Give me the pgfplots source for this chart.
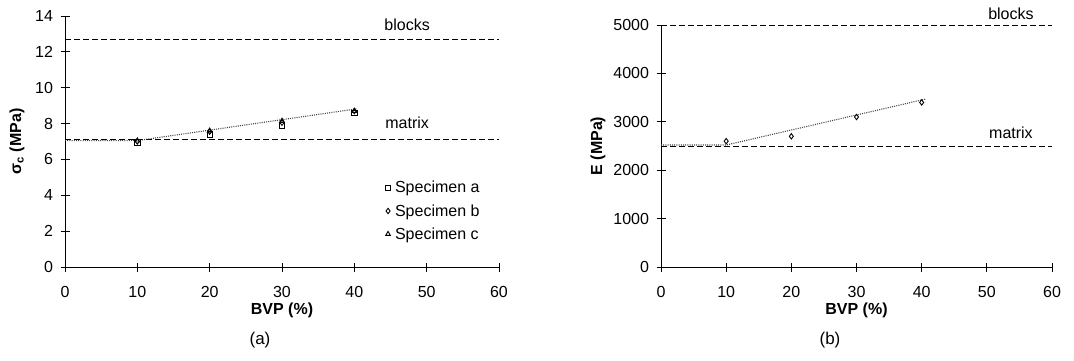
\documentclass[border=0pt]{standalone}
\usepackage{fontspec}
\setmainfont{Liberation Sans}
\usepackage{pgfplots}
\pgfplotsset{compat=1.18}
\begin{document}
\begin{tikzpicture}[font=\fontsize{16}{19}\selectfont]
\useasboundingbox (0,0) rectangle (1074pt,360pt);
\pgfplotsset{
 common/.style={
  scale only axis,
  axis x line=bottom, axis y line=left,
  axis line style={-, line width=1pt, black},
  tick align=center, major tick length=9pt,
  tick style={black, line width=0.8pt},
  xmin=0, xmax=60, xtick={0,10,...,60},
  /pgf/number format/assume math mode=true,
  /pgf/number format/1000 sep={},
  scaled y ticks=false,
  ticklabel style={font=\fontsize{16}{19}\selectfont},
  xticklabel style={yshift=-11pt},
  yticklabel style={xshift=-4pt},
  xlabel style={font=\bfseries\fontsize{16}{19}\selectfont, anchor=center},
  ylabel style={font=\bfseries\fontsize{16}{19}\selectfont, anchor=center, rotate=0},
  clip=false,
 },
 refline/.style={black, line width=1pt, dash pattern=on 6pt off 3pt},
 trend/.style={gray!50!black, line width=1.1pt, dash pattern=on 1pt off 1.2pt},
 mk/.style={only marks, black, line width=0.9pt, mark size=2.7pt, mark options={fill=white, solid}},
}
\begin{axis}[common, at={(65pt,93pt)}, anchor=south west, width=434pt, height=251pt,
  ymin=0, ymax=14, ytick={0,2,...,14},
  xlabel={BVP (\%)}, xlabel style={at={(axis description cs:0.5,-0.171)}},
  ylabel={σ\textsubscript{c} (MPa)}, ylabel style={at={(axis description cs:-0.1106,0.5)}},
  legend cell align=left,
  legend style={draw=none, fill=none, at={(0.735,0.35)}, anchor=north west, inner sep=0pt, row sep=6pt, font=\fontsize{16}{19}\selectfont},
  legend image code/.code={\draw[#1] plot coordinates {(0.12cm,0cm)}; \path (0cm,0cm) (0.28cm,0cm);},
]
\addplot[mk, mark=square] coordinates {(10,6.95) (20,7.4) (30,7.9) (40,8.6)};
\addlegendentry{Specimen a}
\addplot[mk, mark=diamond] coordinates {(10,7.0) (20,7.55) (30,8.05) (40,8.7)};
\addlegendentry{Specimen b}
\addplot[mk, mark=triangle] coordinates {(10,7.05) (20,7.6) (30,8.15) (40,8.7)};
\addlegendentry{Specimen c}
\addplot[refline, forget plot] coordinates {(0,12.7) (60,12.7)};
\addplot[refline, forget plot] coordinates {(0,7.1) (60,7.1)};
\addplot[trend, forget plot] coordinates {(0,7.05) (10,7.05) (40.3,8.82)};
\node at (axis cs:47.3,13.5) {blocks};
\node at (axis cs:47.3,8.03) {matrix};
\end{axis}
\begin{axis}[common, at={(661pt,93pt)}, anchor=south west, width=391pt, height=242pt,
  ymin=0, ymax=5000, ytick={0,1000,...,5000},
  xlabel={BVP (\%)}, xlabel style={at={(axis description cs:0.5,-0.178)}},
  ylabel={E (MPa)}, ylabel style={at={(axis description cs:-0.161,0.5)}},
]
\addplot[refline] coordinates {(0,5000) (60,5000)};
\addplot[refline] coordinates {(0,2500) (60,2500)};
\addplot[trend] coordinates {(0,2520) (10,2520) (40.6,3470)};
\addplot[mk, mark=diamond] coordinates {(10,2600) (20,2700) (30,3100) (40,3400)};
\node at (axis cs:53.7,5227) {blocks};
\node at (axis cs:53.7,2769) {matrix};
\end{axis}
\node[font=\fontsize{17}{20}\selectfont] at (260pt,20pt) {(a)};
\node[font=\fontsize{17}{20}\selectfont] at (830pt,20pt) {(b)};
\end{tikzpicture}
\end{document}
